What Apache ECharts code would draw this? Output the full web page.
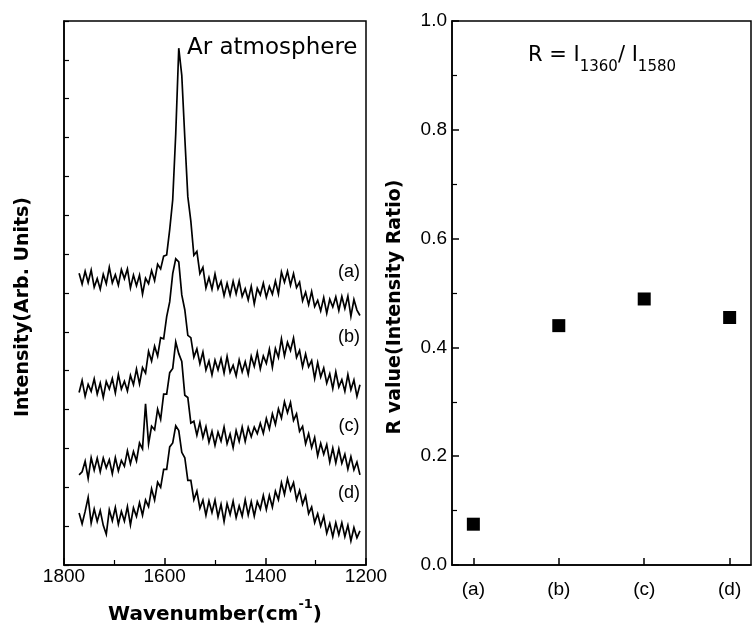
<!DOCTYPE html>
<html><head><meta charset="utf-8">
<script src="https://cdn.jsdelivr.net/npm/echarts@6/dist/echarts.min.js"></script>
<style>html,body{margin:0;padding:0;background:#fff}#c{width:752px;height:626px}</style>
</head><body><div id="c"></div>
<script>
// Raman shift grid (cm-1), shared by the four spectra
const wavenumber = [1770,1764,1758,1752,1746,1740,1734,1728,1722,1716,
1710,1704,1698,1692,1686,1680,1674,1668,1662,1656,
1650,1644,1638,1632,1626,1620,1614,1608,1602,1596,
1590,1584,1578,1572,1566,1560,1554,1548,1542,1536,
1530,1524,1518,1512,1506,1500,1494,1488,1482,1476,
1470,1464,1458,1452,1446,1440,1434,1428,1422,1416,
1410,1404,1398,1392,1386,1380,1374,1368,1362,1356,
1350,1344,1338,1332,1326,1320,1314,1308,1302,1296,
1290,1284,1278,1272,1266,1260,1254,1248,1242,1236,
1230,1224,1218,1212];

const traceA = [7.51,7.23,7.56,7.27,7.59,7.15,7.37,7.10,7.48,7.24,
7.66,7.26,7.47,7.20,7.60,7.37,7.62,7.13,7.46,7.19,
7.46,6.97,7.38,7.24,7.58,7.32,7.74,7.62,7.95,7.98,
8.63,9.40,11.10,13.30,12.60,11.00,9.48,8.85,7.97,8.07,
7.50,7.66,7.13,7.40,7.10,7.49,7.11,7.30,6.93,7.25,
6.94,7.30,6.98,7.31,6.91,7.11,6.82,7.17,6.72,7.12,
6.95,7.25,6.89,7.17,6.97,7.31,6.98,7.54,7.28,7.56,
7.20,7.50,7.14,7.28,6.80,7.02,6.70,7.04,6.65,6.81,
6.54,6.88,6.48,6.84,6.64,6.90,6.55,6.91,6.60,6.92,
6.40,6.83,6.56,6.42];

const traceB = [4.44,4.75,4.34,4.65,4.47,4.79,4.40,4.68,4.31,4.72,
4.53,4.80,4.43,4.90,4.53,4.73,4.48,4.88,4.64,5.04,
4.66,5.08,4.94,5.50,5.25,5.63,5.38,5.85,5.82,6.39,
6.77,7.50,7.88,7.80,6.95,6.57,5.91,5.85,5.35,5.56,
5.18,5.48,5.02,5.25,4.89,5.27,5.02,5.31,4.94,5.37,
4.96,5.14,4.87,5.28,4.97,5.23,4.91,5.37,5.11,5.47,
5.05,5.38,5.19,5.55,5.09,5.57,5.34,5.82,5.38,5.73,
5.52,5.84,5.34,5.52,5.10,5.43,5.10,5.26,4.80,5.21,
4.84,5.07,4.68,4.92,4.54,4.97,4.58,4.77,4.47,4.90,
4.51,4.76,4.34,4.64];

const traceC = [2.32,2.40,2.67,2.23,2.76,2.44,2.75,2.40,2.75,2.50,
2.71,2.35,2.76,2.42,2.69,2.54,2.94,2.61,2.92,2.68,
3.14,2.99,4.15,3.12,3.57,3.48,4.01,3.75,4.40,4.40,
4.95,5.06,5.74,5.44,5.24,4.37,4.31,3.65,3.70,3.34,
3.67,3.28,3.56,3.16,3.44,3.08,3.42,3.19,3.55,3.12,
3.37,3.02,3.46,3.18,3.55,3.18,3.54,3.30,3.55,3.38,
3.65,3.39,3.77,3.50,3.89,3.62,4.02,3.78,4.20,3.92,
4.18,3.72,3.89,3.44,3.57,3.12,3.38,3.02,3.28,2.81,
3.13,2.85,3.10,2.65,3.01,2.63,2.99,2.62,2.85,2.47,
2.79,2.45,2.65,2.32];

const traceD = [1.34,1.06,1.38,1.74,1.08,1.44,1.12,1.40,1.02,0.79,
1.42,1.14,1.48,1.05,1.38,1.13,1.50,1.03,1.47,1.25,
1.60,1.28,1.67,1.50,1.96,1.67,2.13,2.00,2.46,2.46,
3.04,3.14,3.58,3.46,2.90,2.76,2.18,2.18,1.68,1.90,
1.46,1.67,1.28,1.65,1.35,1.67,1.24,1.56,1.12,1.58,
1.30,1.64,1.22,1.52,1.26,1.68,1.29,1.63,1.26,1.63,
1.44,1.79,1.43,1.79,1.49,1.90,1.68,2.12,1.82,2.22,
1.92,2.12,1.68,1.92,1.56,1.78,1.32,1.49,1.09,1.32,
1.00,1.25,0.82,1.07,0.73,1.09,0.78,1.09,0.73,1.02,
0.62,0.96,0.70,0.88];

const sampleLabels = ['(a)','(b)','(c)','(d)'];
const rValues = [0.075, 0.44, 0.489, 0.455];
const sampleTickValues = [1, 2, 3, 4];

const chart = echarts.init(document.getElementById('c'), null, {renderer:'canvas'});
const black = '#000';
const tickFont = {color:black, fontSize:19, fontFamily:'"Liberation Sans", Arial, sans-serif'};
const nameFont = {color:black, fontSize:19, fontWeight:'bold', fontFamily:'"DejaVu Sans", sans-serif'};
const zip = t => wavenumber.map((w,i) => [w, t[i]]);
const lineSeries = t => ({type:'line', xAxisIndex:0, yAxisIndex:0, data:zip(t), showSymbol:false,
  symbol:'none', lineStyle:{color:black, width:1.7, join:'miter'}, silent:true});

chart.setOption({
  animation:false,
  backgroundColor:'#fff',
  grid:[
    {left:64, top:21, width:302, height:544, show:true, borderColor:black, borderWidth:1.5, containLabel:false, outerBoundsMode:'none'},
    {left:452, top:21, width:299, height:544, show:true, borderColor:black, borderWidth:1.5, containLabel:false, outerBoundsMode:'none'}
  ],
  xAxis:[
    {gridIndex:0, type:'value', inverse:true, min:1200, max:1800, interval:200,
     axisLine:{show:true, onZero:false, lineStyle:{color:black, width:1.5}},
     axisTick:{show:true, inside:true, length:7, lineStyle:{color:black, width:1.5}},
     minorTick:{show:true, splitNumber:2, length:5, lineStyle:{color:black, width:1.2}},
     splitLine:{show:false},
     axisLabel:Object.assign({margin:2, formatter:v => String(v)}, tickFont),
     name:'{n|Wavenumber(cm}{s|-1}{n|)}', nameLocation:'middle', nameGap:33,
     nameTextStyle:{rich:{
       n:{fontSize:20, fontWeight:'bold', fontFamily:'"DejaVu Sans", sans-serif', color:black, padding:[7,0,0,0], verticalAlign:'bottom'},
       s:{fontSize:13, fontWeight:'bold', fontFamily:'"DejaVu Sans", sans-serif', color:black, verticalAlign:'top'}
     }}},
    {gridIndex:1, type:'value', min:0.75, max:4.25,
     axisLine:{show:true, onZero:false, lineStyle:{color:black, width:1.5}},
     axisTick:{show:true, inside:true, length:7, customValues:sampleTickValues, lineStyle:{color:black, width:1.5}},
     splitLine:{show:false},
     axisLabel:Object.assign({margin:15, customValues:sampleTickValues,
       formatter:v => sampleLabels[Math.round(v)-1] || ''}, tickFont)}
  ],
  yAxis:[
    {gridIndex:0, type:'value', min:0, max:14, interval:1,
     axisLine:{show:true, onZero:false, lineStyle:{color:black, width:1.5}},
     axisTick:{show:true, inside:true, length:5, lineStyle:{color:black, width:1.2}},
     axisLabel:{show:false}, splitLine:{show:false},
     name:'Intensity(Arb. Units)', nameLocation:'middle', nameGap:31,
     nameTextStyle:Object.assign({padding:[0,28,0,0]}, nameFont)},
    {gridIndex:1, type:'value', min:0, max:1, interval:0.2,
     axisLine:{show:true, onZero:false, lineStyle:{color:black, width:1.5}},
     axisTick:{show:true, inside:true, length:7, lineStyle:{color:black, width:1.5}},
     minorTick:{show:true, splitNumber:2, length:5, lineStyle:{color:black, width:1.2}},
     axisLabel:Object.assign({margin:5, formatter:v => v.toFixed(1)}, tickFont),
     splitLine:{show:false},
     name:'R value(Intensity Ratio)', nameLocation:'middle', nameGap:47,
     nameTextStyle:Object.assign({padding:[0,28,0,0]}, nameFont)}
  ],
  series:[
    lineSeries(traceA), lineSeries(traceB), lineSeries(traceC), lineSeries(traceD),
    {type:'scatter', xAxisIndex:1, yAxisIndex:1, symbol:'rect', symbolSize:13,
     itemStyle:{color:black, opacity:1}, data:rValues.map((v,i) => [sampleTickValues[i], v])}
  ],
  graphic:[
    {type:'text', left:187, top:37, silent:true,
     style:{text:'Ar atmosphere', fontSize:23, fontFamily:'"DejaVu Sans", sans-serif', fill:black}},
    {type:'text', left:528, top:45, silent:true,
     style:{text:'{m|R = I}{s|1360}{m|/ I}{s|1580}', fill:black,
       rich:{
         m:{fontSize:21, fontFamily:'"DejaVu Sans", sans-serif', fill:black, verticalAlign:'top'},
         s:{fontSize:15, fontFamily:'"DejaVu Sans", sans-serif', fill:black, padding:[15,0,0,0], verticalAlign:'bottom'}
       }}}
  ].concat(sampleLabels.map((t,i) => ({type:'text', silent:true,
     x:349, y:[272,337,426,493][i],
     style:{text:t, fontSize:18, fontFamily:'"Liberation Sans", Arial, sans-serif', fill:black, align:'center', verticalAlign:'middle'}})))
});
</script></body></html>
